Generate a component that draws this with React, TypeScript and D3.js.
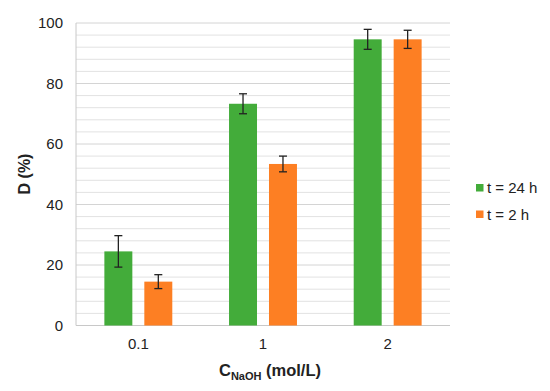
import React from 'react'
import * as d3 from 'd3'

// concentrations of NaOH (mol/L)
const categories = ['0.1', '1', '2']
const series = ['t = 24 h', 't = 2 h']
const colors = ['#43ac3a', '#fd7f23']

// D (%) and error (±) per series, in category order
const values24h = [24.5, 73.3, 94.6]
const errors24h = [5.2, 3.3, 3.3]
const values2h = [14.5, 53.4, 94.6]
const errors2h = [2.3, 2.6, 3.0]

const yTicks = [0, 20, 40, 60, 80, 100]

const W = 550
const H = 391
const margin = { left: 76, right: 100, top: 23, bottom: 65.5 }

const App = () => {
  const x = d3.scaleBand().domain(categories).range([margin.left, W - margin.right]).padding(0)
  const xs = d3.scaleBand().domain(series).range([0, x.bandwidth()]).paddingInner(0.3).paddingOuter(0.71)
  const y = d3.scaleLinear().domain([0, 100]).range([H - margin.bottom, margin.top])

  const minor = d3.range(0, 101, 4)
  const data = [values24h, values2h]
  const errs = [errors24h, errors2h]
  const font = 'Liberation Sans, Arial, sans-serif'

  return (
    <svg width={W} height={H} style={{ position: 'absolute', left: 0, top: 0, background: '#fff' }} fontFamily={font}>
      {/* grid */}
      {minor.map(v => (
        <line key={'g' + v} x1={margin.left} x2={W - margin.right} y1={y(v)} y2={y(v)}
          stroke={v % 20 === 0 ? '#d4d4d4' : '#e2e2e2'} strokeWidth={1} />
      ))}
      <line x1={margin.left} x2={margin.left} y1={y(100)} y2={y(0)} stroke='#c8c8c8' />
      <line x1={margin.left} x2={W - margin.right} y1={y(0)} y2={y(0)} stroke='#c8c8c8' />

      {/* bars */}
      {series.map((s, si) => categories.map((c, ci) => {
        const bx = (x(c) || 0) + (xs(s) || 0)
        const v = data[si][ci]
        return (
          <rect key={s + c} x={bx} y={y(v)} width={xs.bandwidth()} height={y(0) - y(v)} fill={colors[si]} />
        )
      }))}

      {/* error bars */}
      {series.map((s, si) => categories.map((c, ci) => {
        const cx = (x(c) || 0) + (xs(s) || 0) + xs.bandwidth() / 2
        const v = data[si][ci]
        const e = errs[si][ci]
        return (
          <g key={'e' + s + c} stroke='#222' strokeWidth={1.3}>
            <line x1={cx} x2={cx} y1={y(v + e)} y2={y(v - e)} />
            <line x1={cx - 4} x2={cx + 4} y1={y(v + e)} y2={y(v + e)} />
            <line x1={cx - 4} x2={cx + 4} y1={y(v - e)} y2={y(v - e)} />
          </g>
        )
      }))}

      {/* y ticks */}
      {yTicks.map(t => (
        <text key={'yt' + t} x={63} y={y(t)} dy='0.35em' textAnchor='end' fontSize={15} fill='#222'>{t}</text>
      ))}
      {/* x ticks */}
      {categories.map(c => (
        <text key={'xt' + c} x={(x(c) || 0) + x.bandwidth() / 2} y={349} textAnchor='middle' fontSize={15} fill='#222'>{c}</text>
      ))}

      {/* axis titles */}
      <text transform={`translate(30,174) rotate(-90)`} textAnchor='middle' fontSize={16} fontWeight='bold' fill='#222'>D (%)</text>
      <text x={270} y={376} textAnchor='middle' fontSize={16.5} fontWeight='bold' fill='#222'>
        C<tspan fontSize={11} dy={4}>NaOH</tspan><tspan dy={-4}> (mol/L)</tspan>
      </text>

      {/* legend */}
      {series.map((s, i) => (
        <g key={'l' + s} transform={`translate(476,${184 + i * 26.5})`}>
          <rect width={7.5} height={7.5} fill={colors[i]} />
          <text x={11} y={9} fontSize={15} fill='#222'>{s}</text>
        </g>
      ))}
    </svg>
  )
}

export default App
